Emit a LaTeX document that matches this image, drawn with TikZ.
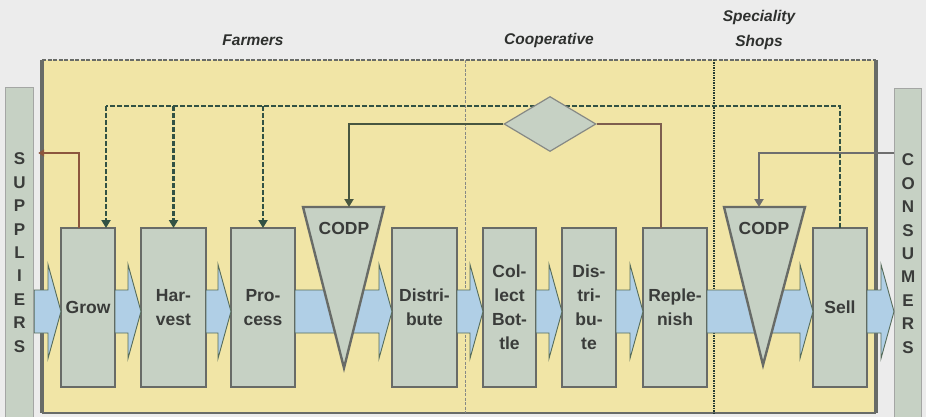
\documentclass[tikz,border=0pt]{standalone}
\usepackage{fontspec}
\setmainfont{Liberation Sans}
\usepackage{tikz}
\usetikzlibrary{arrows.meta,positioning,calc,shapes.geometric}
\definecolor{pageGray}{RGB}{236,236,236}
\definecolor{panelYellow}{RGB}{241,229,166}
\definecolor{boxGreen}{RGB}{198,209,196}
\definecolor{boxLine}{RGB}{104,107,103}
\definecolor{flowBlue}{RGB}{176,207,230}
\definecolor{flowEdge}{RGB}{86,108,90}
\definecolor{feedInk}{RGB}{50,82,68}
\definecolor{ctrlInk}{RGB}{72,86,64}
\definecolor{plainInk}{RGB}{110,110,110}
\definecolor{supInk}{RGB}{140,86,62}
\definecolor{textInk}{RGB}{58,60,58}
\tikzset{
  stepbox/.style={draw=boxLine, line width=2.4pt, fill=boxGreen, align=center, minimum height=159pt, inner sep=0pt, outer sep=0pt, text=textInk, font=\bfseries\fontsize{17.5}{24}\selectfont},
  codpshape/.style={draw=boxLine, line width=2.4pt, fill=boxGreen, line join=miter},
  codplabel/.style={text=textInk, font=\bfseries\fontsize{17.5}{20}\selectfont},
  decision/.style={diamond, draw=boxLine!80, line width=1.2pt, fill=boxGreen, minimum width=92pt, minimum height=55pt, inner sep=0pt},
  sidebar/.style={draw=boxLine!60, line width=1.2pt, fill=boxGreen, align=center, inner sep=0pt, text=textInk, font=\bfseries\fontsize{17}{23.4}\selectfont},
  lanelabel/.style={align=center, text=textInk!80!black, font=\bfseries\itshape\fontsize{15.5}{25}\selectfont},
  flowarrow/.style={fill=flowBlue, draw=flowEdge, line width=0.9pt, line join=miter},
  feedback/.style={draw=feedInk, line width=2.8pt, dash pattern=on 5pt off 2pt},
  feedtip/.style={-{Triangle[length=8pt,width=9pt]}},
  ctrl/.style={draw=ctrlInk, line width=2.6pt, -{Triangle[length=8pt,width=9pt]}},
  thinctrl/.style={draw=supInk!60!boxLine, line width=1.6pt},
  demand/.style={draw=plainInk, line width=2.2pt, -{Triangle[length=8pt,width=9pt]}},
  supply/.style={draw=supInk, line width=1.6pt, -{Triangle[length=6pt,width=7pt]}}
}
% block arrow from the right side of #1 to the left side of #2
\newcommand{\flowpipe}[2]{%
  \filldraw[flowarrow] ($(#1.east |- axis)+(0,-17.5)$) -- ($(#2.west |- axis)+(-13,-17.5)$)
    -- ($(#2.west |- axis)+(-13,-43)$) -- ($(#2.west |- axis)+(0,4)$)
    -- ($(#2.west |- axis)+(-13,51)$) -- ($(#2.west |- axis)+(-13,25.5)$)
    -- ($(#1.east |- axis)+(0,25.5)$) -- cycle;}

\begin{document}
\begin{tikzpicture}[x=1pt, y=-1pt]
  \fill[pageGray] (0,0) rectangle (926,417);
  \useasboundingbox (0,0) rectangle (926,417);
  \coordinate (axis) at (0,307.5);
  \coordinate (fbTop) at (0,106);

  % lanes
  \fill[panelYellow] (42,60) rectangle (876,413);
  \draw[boxLine, line width=1.4pt, dash pattern=on 4pt off 1.5pt] (42,60) -- (876,60);
  \draw[boxLine, line width=2pt] (42,413) -- (876,413);
  \draw[boxLine, line width=3.4pt] (42,60) -- (42,413);
  \draw[boxLine, line width=3.4pt] (876,60) -- (876,413);
  \draw[boxLine!80, line width=1pt, dash pattern=on 3pt off 1.5pt] (465,60) -- (465,413);
  \draw[feedInk!70!black, line width=2.8pt, dash pattern=on 1.5pt off 1pt] (714,60) -- (714,413);

  \node[lanelabel] (farmersLbl) at (253,40) {Farmers};
  \node[lanelabel] (coopLbl) at (549,40) {Cooperative};
  \node[lanelabel] (shopsLbl) at (759,29.5) {Speciality\\Shops};

  % process steps
  \node[stepbox, minimum width=54pt] (grow) at (88,307.5) {Grow};
  \node[stepbox, minimum width=65pt, right=26pt of grow] (harvest) {Har-\\vest};
  \node[stepbox, minimum width=64pt, right=25pt of harvest] (process) {Pro-\\cess};
  \node[stepbox, minimum width=65pt, right=97pt of process] (distribute) {Distri-\\bute};
  \node[stepbox, minimum width=53pt, right=26pt of distribute] (collect) {Col-\\lect\\Bot-\\tle};
  \node[stepbox, minimum width=54pt, right=26pt of collect] (redistribute) {Dis-\\tri-\\bu-\\te};
  \node[stepbox, minimum width=64pt, right=27pt of redistribute] (replenish) {Reple-\\nish};
  \node[stepbox, minimum width=54pt, right=106pt of replenish] (sell) {Sell};

  \node[sidebar, minimum width=28pt, minimum height=330pt, anchor=north west] (suppliers) at (5,87) {S\\U\\P\\P\\L\\I\\E\\R\\S};
  \node[sidebar, minimum width=27pt, minimum height=330pt, anchor=north west] (consumers) at (894,88) {C\\O\\N\\S\\U\\M\\E\\R\\S};

  % material flow
  \flowpipe{suppliers}{grow}
  \flowpipe{grow}{harvest}
  \flowpipe{harvest}{process}
  \flowpipe{process}{distribute}
  \flowpipe{distribute}{collect}
  \flowpipe{collect}{redistribute}
  \flowpipe{redistribute}{replenish}
  \flowpipe{replenish}{sell}
  \flowpipe{sell}{consumers}

  % order points
  \coordinate (codpA) at (344,207);
  \draw[codpshape] ($(codpA)+(-41,0)$) -- ($(codpA)+(40,0)$) -- ($(codpA)+(0,161)$) -- cycle;
  \node[codplabel] at ($(codpA)+(0,21)$) {CODP};
  \coordinate (codpB) at (764,207);
  \draw[codpshape] ($(codpB)+(-40,0)$) -- ($(codpB)+(41,0)$) -- ($(codpB)+(-1,158)$) -- cycle;
  \node[codplabel] at ($(codpB)+(0,21)$) {CODP};

  % information flow
  \draw[feedback] (sell.north) -- (sell.north |- fbTop) -- ($(grow.north |- fbTop)+(18,0)$);
  \draw[feedback, feedtip] ($(grow.north |- fbTop)+(18,0)$) -- ($(grow.north)+(18,0)$);
  \draw[feedback, feedtip] (harvest.north |- fbTop) -- (harvest.north);
  \draw[feedback, feedtip] (process.north |- fbTop) -- (process.north);
  \node[decision] (decide) at (550,124) {};
  \draw[ctrl] (decide.west) -| ($(codpA)+(5,0)$);
  \draw[thinctrl] (decide.east) -| ($(replenish.north)+(-14,0)$);
  \draw[demand] ($(consumers.north west)+(0,65)$) -| ($(codpB)+(-5,0)$);
  \draw[supply] ($(grow.north)+(-9,0)$) |- ($(suppliers.north east)+(4,66)$);
\end{tikzpicture}
\end{document}
